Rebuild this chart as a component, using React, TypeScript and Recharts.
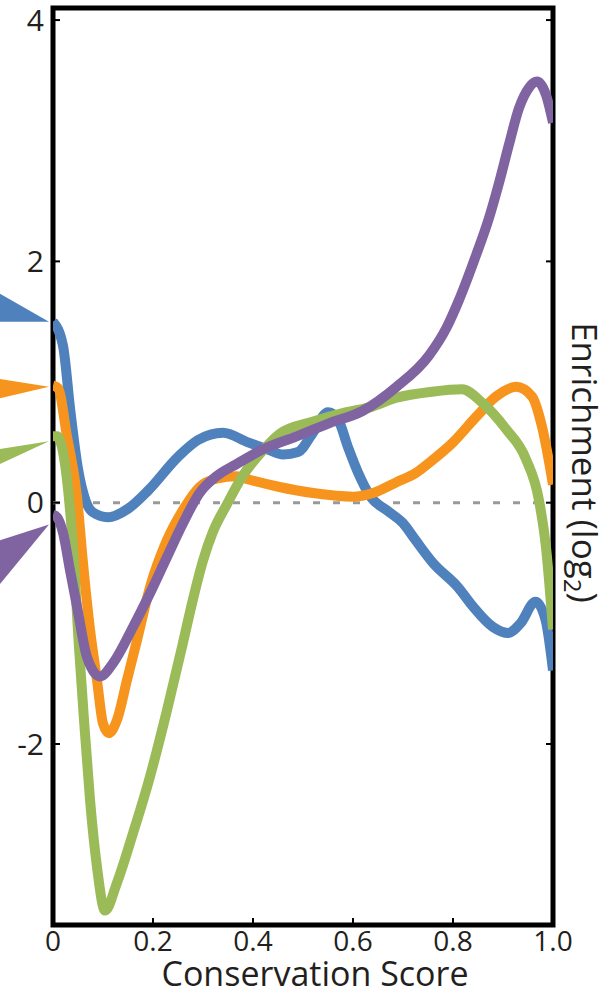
import {
  Label,
  Line,
  LineChart,
  ReferenceArea,
  ReferenceDot,
  ReferenceLine,
  XAxis,
  YAxis,
} from "recharts";

const xTicks = [0, 0.2, 0.4, 0.6, 0.8, 1.0];
const yTicks = [-2, 0, 2, 4];

const blueScore = [0, 0.02, 0.035, 0.05, 0.065, 0.08, 0.11, 0.15, 0.19, 0.25, 0.29, 0.34, 0.39, 0.43, 0.46, 0.49, 0.52, 0.55, 0.57, 0.59, 0.61, 0.635, 0.67, 0.7, 0.725, 0.76, 0.81, 0.84, 0.88, 0.91, 0.935, 0.965, 0.985, 1.0];
const blueValue = [1.5, 1.3, 0.75, 0.28, 0.02, -0.08, -0.12, -0.05, 0.1, 0.38, 0.52, 0.58, 0.5, 0.44, 0.4, 0.42, 0.58, 0.75, 0.69, 0.46, 0.25, 0.05, -0.07, -0.17, -0.31, -0.5, -0.7, -0.86, -1.03, -1.08, -1.0, -0.82, -0.97, -1.39];

const orangeScore = [0, 0.01, 0.028, 0.048, 0.06, 0.074, 0.088, 0.1, 0.112, 0.128, 0.148, 0.168, 0.194, 0.228, 0.26, 0.293, 0.327, 0.367, 0.393, 0.453, 0.52, 0.6, 0.64, 0.687, 0.727, 0.752, 0.8, 0.846, 0.886, 0.926, 0.958, 0.978, 1.0];
const orangeValue = [0.97, 0.95, 0.55, 0.05, -0.5, -1.05, -1.47, -1.83, -1.91, -1.8, -1.47, -1.14, -0.7, -0.31, -0.06, 0.13, 0.2, 0.22, 0.19, 0.13, 0.08, 0.05, 0.08, 0.17, 0.25, 0.33, 0.5, 0.71, 0.88, 0.96, 0.88, 0.63, 0.15];

const greenScore = [0, 0.008, 0.028, 0.04, 0.052, 0.062, 0.074, 0.088, 0.104, 0.128, 0.16, 0.194, 0.228, 0.26, 0.28, 0.3, 0.32, 0.347, 0.379, 0.419, 0.453, 0.519, 0.587, 0.633, 0.687, 0.758, 0.818, 0.858, 0.906, 0.946, 0.972, 0.986, 1.0];
const greenValue = [0.55, 0.55, 0.19, -0.37, -1.2, -1.8, -2.46, -3.02, -3.38, -3.15, -2.74, -2.27, -1.72, -1.16, -0.8, -0.48, -0.24, -0.02, 0.22, 0.43, 0.57, 0.67, 0.75, 0.79, 0.87, 0.92, 0.94, 0.83, 0.61, 0.36, 0.02, -0.37, -1.05];

const purpleScore = [0, 0.008, 0.02, 0.034, 0.048, 0.068, 0.094, 0.12, 0.16, 0.194, 0.228, 0.26, 0.293, 0.327, 0.367, 0.419, 0.487, 0.553, 0.619, 0.687, 0.752, 0.787, 0.812, 0.846, 0.872, 0.892, 0.912, 0.932, 0.952, 0.968, 0.986, 1.0];
const purpleValue = [-0.1, -0.12, -0.25, -0.56, -0.86, -1.28, -1.44, -1.33, -1.03, -0.75, -0.45, -0.17, 0.08, 0.22, 0.32, 0.44, 0.55, 0.66, 0.76, 0.96, 1.22, 1.45, 1.68, 2.05, 2.36, 2.65, 2.97, 3.27, 3.44, 3.49, 3.38, 3.15];

// values the wedges on the left point at
const wedgeValue = [1.5, 0.96, 0.51, -0.18];

const toPoints = (xs: number[], ys: number[]) =>
  xs.map((score, i) => ({ score, value: ys[i] }));

const series = [
  { key: "blue", color: "#4f81bd", data: toPoints(blueScore, blueValue) },
  { key: "orange", color: "#f7941d", data: toPoints(orangeScore, orangeValue) },
  { key: "green", color: "#9bbb59", data: toPoints(greenScore, greenValue) },
  { key: "purple", color: "#8064a2", data: toPoints(purpleScore, purpleValue) },
];

// wedge outline: offsets (px) of its top and bottom corners at the page edge
const wedgeSpread = [
  [-32, 0],
  [-9, 13],
  [9, 26],
  [18, 68],
];

const font = "'Open Sans', sans-serif";
const textColor = "#231f20";

export default function App() {
  return (
    <div style={{ position: "absolute", left: 0, top: 0 }}>
      <LineChart
        width={610}
        height={993}
        margin={{ top: 8, right: 0, bottom: 0, left: 0 }}
      >
        <XAxis
          dataKey="score"
          type="number"
          domain={[0, 1]}
          ticks={xTicks}
          allowDataOverflow
          height={68}
          axisLine={false}
          tickSize={-7}
          tickMargin={13}
          tickLine={{ stroke: "#000", strokeWidth: 2 }}
          tickFormatter={(v: number) => (v === 0 ? "0" : v.toFixed(1))}
          tick={{ fontSize: 28, fill: textColor, fontFamily: font }}
        >
          <Label
            content={(p: any) => {
              const vb = p.viewBox;
              return (
                <text
                  x={vb.x + vb.width / 2 + 12}
                  y={vb.y + 61}
                  textAnchor="middle"
                  fontSize={34}
                  fill={textColor}
                  fontFamily={font}
                >
                  Conservation Score
                </text>
              );
            }}
          />
        </XAxis>
        <YAxis
          yAxisId="left"
          type="number"
          domain={[-3.5, 4.1]}
          ticks={yTicks}
          allowDataOverflow
          width={53}
          axisLine={false}
          tickSize={-7}
          tickMargin={16}
          tickLine={{ stroke: "#000", strokeWidth: 2 }}
          tick={{ fontSize: 30, fill: textColor, fontFamily: font }}
        />
        <YAxis
          yAxisId="right"
          orientation="right"
          type="number"
          domain={[-3.5, 4.1]}
          ticks={yTicks}
          allowDataOverflow
          width={57}
          axisLine={false}
          tickSize={-7}
          tickLine={{ stroke: "#000", strokeWidth: 2 }}
          tickFormatter={() => ""}
        >
          <Label
            content={(p: any) => {
              const vb = p.viewBox;
              const x = vb.x + 19;
              const y = vb.y + vb.height / 2 - 4;
              return (
                <text
                  x={x}
                  y={y}
                  transform={`rotate(90, ${x}, ${y})`}
                  textAnchor="middle"
                  fontSize={35}
                  fill={textColor}
                  fontFamily={font}
                >
                  Enrichment (log
                  <tspan fontSize={24} dy={8}>2</tspan>
                  <tspan dy={-8}>)</tspan>
                </text>
              );
            }}
          />
        </YAxis>
        <ReferenceLine
          yAxisId="left"
          y={0}
          stroke="#999"
          strokeWidth={3}
          strokeDasharray="7 13"
        />
        {series.map((s) => (
          <Line
            key={s.key}
            yAxisId="left"
            data={s.data}
            dataKey="value"
            type="monotone"
            stroke={s.color}
            strokeWidth={10}
            dot={false}
            activeDot={false}
            isAnimationActive={false}
          />
        ))}
        {series.map((s, i) => (
          <ReferenceDot
            key={"w" + s.key}
            yAxisId="left"
            x={0}
            y={wedgeValue[i]}
            r={0}
            ifOverflow="visible"
            shape={(p: any) => (
              <polygon
                points={`${p.cx - 60},${p.cy + wedgeSpread[i][0]} ${p.cx - 4},${p.cy} ${p.cx - 60},${p.cy + wedgeSpread[i][1]}`}
                fill={s.color}
              />
            )}
          />
        ))}
        <ReferenceArea
          yAxisId="left"
          x1={0}
          x2={1}
          y1={-3.5}
          y2={4.1}
          fill="none"
          fillOpacity={0}
          stroke="#000"
          strokeWidth={5}
          ifOverflow="visible"
        />
      </LineChart>
    </div>
  );
}
